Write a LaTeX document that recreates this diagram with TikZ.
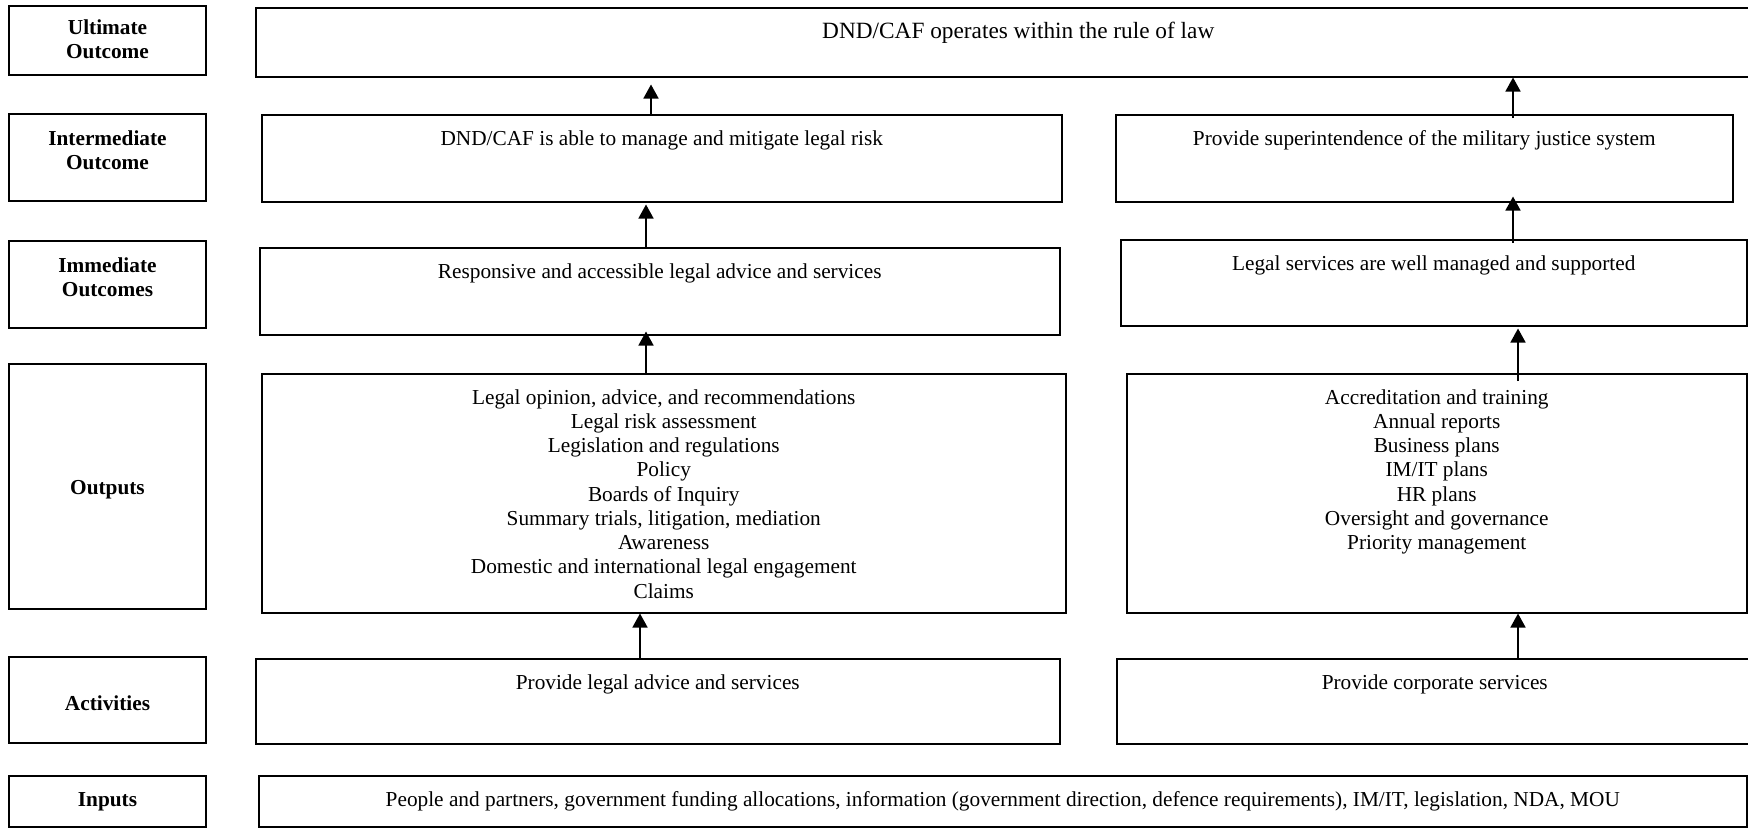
\documentclass[tikz,border=0pt]{standalone}
\usepackage{fontspec}
\setmainfont{Liberation Serif}
\usetikzlibrary{positioning, arrows.meta}
\newcommand{\chartfont}{\fontsize{10.65}{12.125}\selectfont}
\tikzset{
	levelbox/.style={rectangle, draw=black, line width=0.85pt, minimum width=98.5pt, inner sep=0pt},
	leveltext/.style={align=center, font=\chartfont\bfseries, inner sep=0pt},
	stagebox/.style={rectangle, draw=black, line width=0.75pt, anchor=north west, inner sep=0pt},
	boxtext/.style={anchor=north, inner sep=0pt, yshift=-8pt, align=center, font=\chartfont},
	uparr/.style={-{Triangle[length=7pt, width=7.5pt]}, line width=0.8pt}
}
\begin{document}
\begin{tikzpicture}[x=0.5pt, y=-0.5pt]
	\useasboundingbox (0,0) rectangle (1748,827);
	% level labels
	\node[levelbox, minimum height=34.5pt] (lult) at (107.5,40.5) {};
	\node[levelbox, minimum height=43.5pt] (lint) at (107.5,157.5) {};
	\node[levelbox, minimum height=43.5pt] (limm) at (107.5,284.5) {};
	\node[levelbox, minimum height=122.5pt] (lout) at (107.5,486.5) {};
	\node[levelbox, minimum height=43pt] (lact) at (107.5,700) {};
	\node[levelbox, minimum height=25.5pt] (linp) at (107.5,801.5) {};
	\node[leveltext, yshift=0.5pt] (lulttxt) at (lult) {Ultimate\\Outcome};
	\node[leveltext, yshift=3.5pt] (linttxt) at (lint) {Intermediate\\Outcome};
	\node[leveltext, yshift=3.5pt] (limmtxt) at (limm) {Immediate\\Outcomes};
	\node[leveltext, yshift=-1.7pt] (louttxt) at (lout) {Outputs};
	\node[leveltext, yshift=-1.7pt] (lacttxt) at (lact) {Activities};
	\node[leveltext] (linptxt) at (linp) {Inputs};
	% stage boxes
	\node[stagebox, minimum width=762.5pt, minimum height=34.5pt] (ult) at (255,7) {};
	\node[stagebox, minimum width=400pt, minimum height=43.5pt] (dnd) at (261,114) {};
	\node[stagebox, minimum width=308.5pt, minimum height=43.5pt] (sup) at (1115,114) {};
	\node[stagebox, minimum width=400pt, minimum height=43.5pt] (resp) at (259,247) {};
	\node[stagebox, minimum width=313pt, minimum height=43pt] (legal) at (1120,239) {};
	\node[stagebox, minimum width=402pt, minimum height=119.5pt] (outl) at (261,373) {};
	\node[stagebox, minimum width=310pt, minimum height=119.5pt] (outr) at (1126,373) {};
	\node[stagebox, minimum width=402pt, minimum height=42.5pt] (actl) at (255,658) {};
	\node[stagebox, minimum width=318pt, minimum height=42.5pt] (actr) at (1116,658) {};
	\node[stagebox, minimum width=744pt, minimum height=25.5pt] (inp) at (258,775) {};
	% box texts
	\node[boxtext, font=\fontsize{11.65}{13.3}\selectfont, yshift=0.5pt] (ulttxt) at (ult.north) {DND/CAF operates within the rule of law};
	\node[boxtext] (dndtxt) at (dnd.north) {DND/CAF is able to manage and mitigate legal risk};
	\node[boxtext] (suptxt) at (sup.north) {Provide superintendence of the military justice system};
	\node[boxtext] (resptxt) at (resp.north) {Responsive and accessible legal advice and services};
	\node[boxtext] (legaltxt) at (legal.north) {Legal services are well managed and supported};
	\node[boxtext] (outltxt) at (outl.north) {Legal opinion, advice, and recommendations\\Legal risk assessment\\Legislation and regulations\\Policy\\Boards of Inquiry\\Summary trials, litigation, mediation\\Awareness\\Domestic and international legal engagement\\Claims};
	\node[boxtext] (outrtxt) at (outr.north) {Accreditation and training\\Annual reports\\Business plans\\IM/IT plans\\HR plans\\Oversight and governance\\Priority management};
	\node[boxtext] (actltxt) at (actl.north) {Provide legal advice and services};
	\node[boxtext] (actrtxt) at (actr.north) {Provide corporate services};
	\node[boxtext] (inptxt) at (inp.north) {People and partners, government funding allocations, information (government direction, defence requirements), IM/IT, legislation, NDA, MOU};
	% arrows
	\foreach \a/\b/\x/\s/\e in {dnd/ult/651/0pt/3.5pt, resp/dnd/646/0pt/1pt, outl/resp/646/0pt/-2pt, actl/outl/640/0pt/0pt,
		sup/ult/1513/-2pt/0pt, legal/sup/1513/-2pt/-3pt, outr/legal/1518/-4pt/1pt, actr/outr/1518/0pt/0pt}{
		\coordinate (ax) at (\x,0);
		\draw[uparr, shorten <=\s, shorten >=\e] (\a.north -| ax) -- (\b.south -| ax);
	}
\end{tikzpicture}
\end{document}
